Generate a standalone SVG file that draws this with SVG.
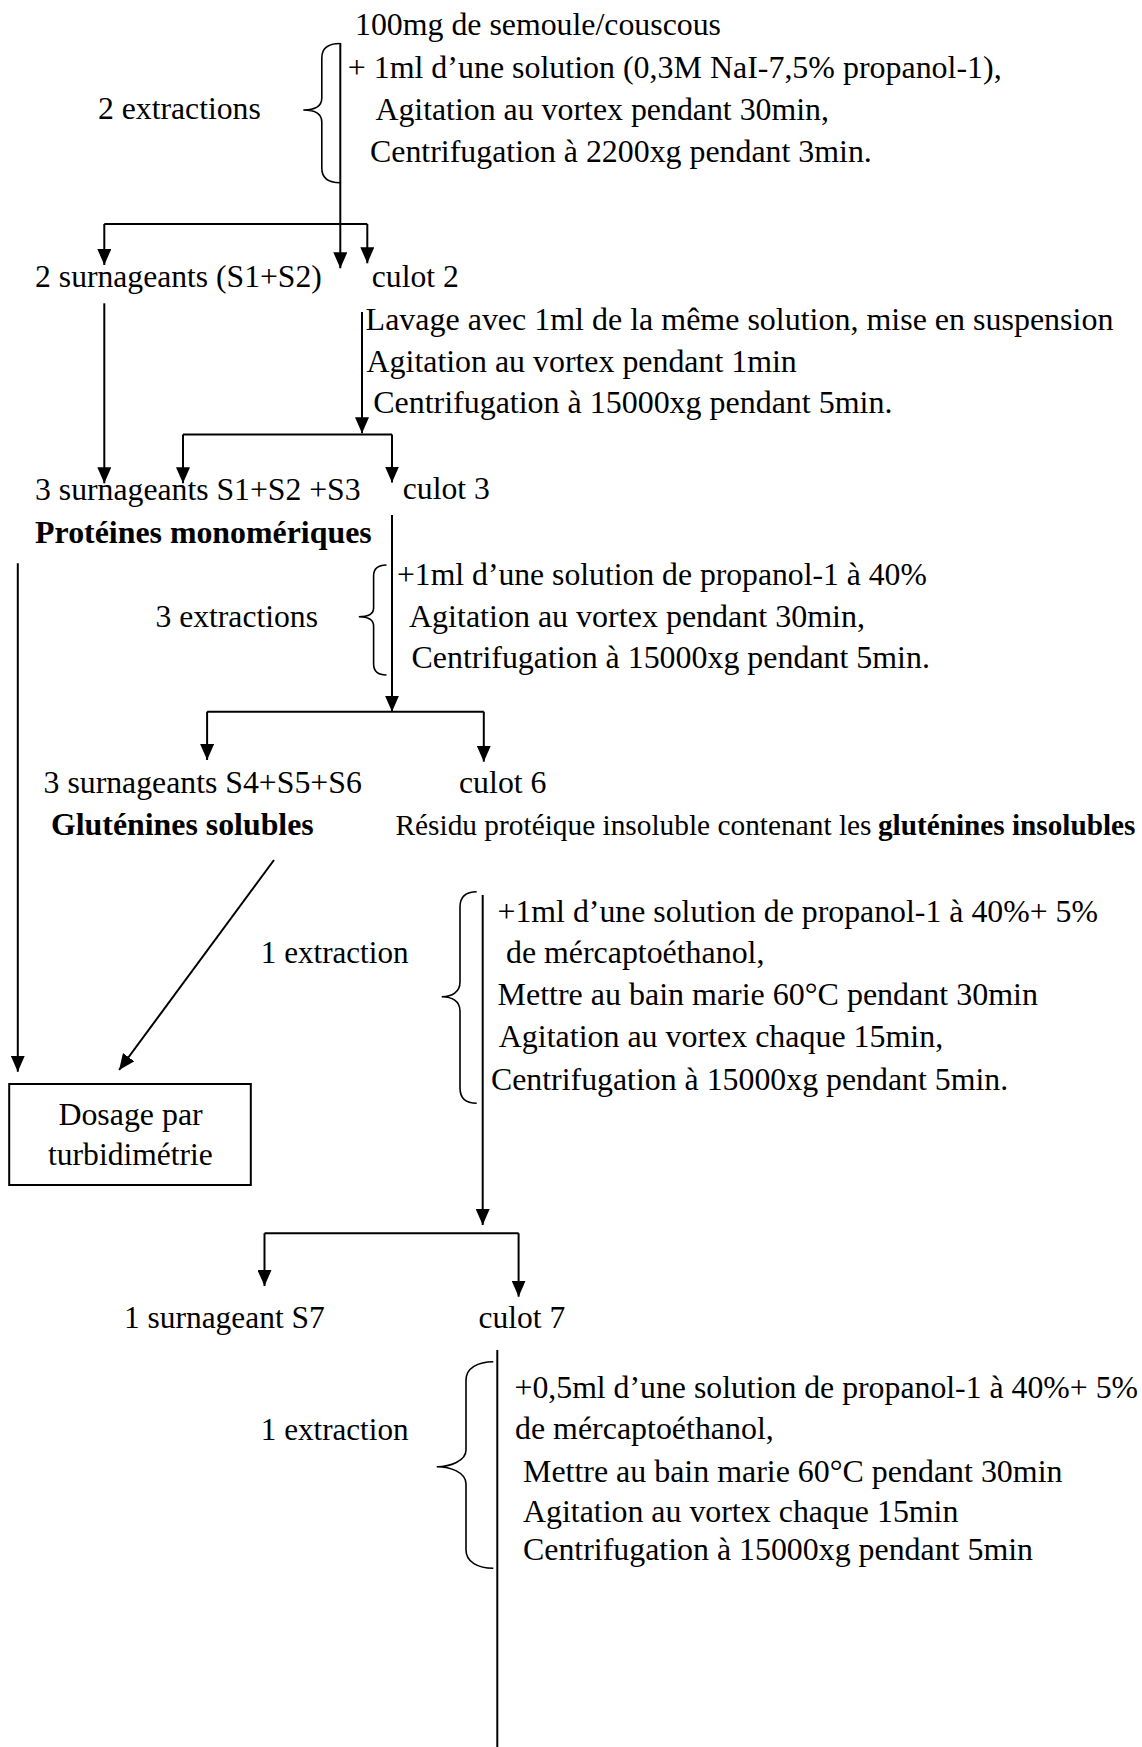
<svg xmlns="http://www.w3.org/2000/svg" width="1142" height="1747" viewBox="0 0 1142 1747">
<style>
text{font-family:"Liberation Serif","Times New Roman",serif;font-size:32px;fill:#000}
.b{font-weight:bold}
.s{font-size:29px}
.ln{stroke:#000;stroke-width:2;fill:none}
.br{stroke:#000;stroke-width:1.6;fill:none}
</style>
<defs>
<marker id="ah" viewBox="0 0 16 14" refX="16" refY="7" markerWidth="16" markerHeight="14" orient="auto" markerUnits="userSpaceOnUse"><path d="M0,0 L16,7 L0,14 z" fill="#000"/></marker>
</defs>
<rect width="1142" height="1747" fill="#fff"/>
<g id="connectors">
<line class="ln" x1="340.3" y1="43" x2="340.3" y2="268.3" marker-end="url(#ah)"/>
<line class="ln" x1="104.3" y1="224" x2="367.3" y2="224"/>
<line class="ln" x1="104.3" y1="224" x2="104.3" y2="265" marker-end="url(#ah)"/>
<line class="ln" x1="367.3" y1="224" x2="367.3" y2="263.3" marker-end="url(#ah)"/>
<line class="ln" x1="104.3" y1="303.3" x2="104.3" y2="483.3" marker-end="url(#ah)"/>
<line class="ln" x1="362" y1="312" x2="362" y2="433.3" marker-end="url(#ah)"/>
<line class="ln" x1="183" y1="434.5" x2="392" y2="434.5"/>
<line class="ln" x1="183" y1="434.5" x2="183" y2="483.3" marker-end="url(#ah)"/>
<line class="ln" x1="392" y1="434.5" x2="392" y2="482.5" marker-end="url(#ah)"/>
<line class="ln" x1="392" y1="515" x2="392" y2="711.7" marker-end="url(#ah)"/>
<line class="ln" x1="207.1" y1="711.7" x2="483.8" y2="711.7"/>
<line class="ln" x1="207.1" y1="711.7" x2="207.1" y2="760" marker-end="url(#ah)"/>
<line class="ln" x1="483.8" y1="711.7" x2="483.8" y2="761.7" marker-end="url(#ah)"/>
<line class="ln" x1="17.8" y1="563.3" x2="17.8" y2="1071.7" marker-end="url(#ah)"/>
<line class="ln" x1="274" y1="860" x2="119.1" y2="1070" marker-end="url(#ah)"/>
<line class="ln" x1="482.7" y1="895" x2="482.7" y2="1225" marker-end="url(#ah)"/>
<line class="ln" x1="264.5" y1="1233.3" x2="518.6" y2="1233.3"/>
<line class="ln" x1="264.5" y1="1233.3" x2="264.5" y2="1286" marker-end="url(#ah)"/>
<line class="ln" x1="518.6" y1="1233.3" x2="518.6" y2="1296.7" marker-end="url(#ah)"/>
<line class="ln" x1="497.3" y1="1350" x2="497.3" y2="1747"/>
</g>
<g id="braces">
<path class="br" d="M340,43.5 C328,43.5 321.8,48 321.8,58 L321.8,98 C321.8,106 315,110 303.3,110 C315,110 321.8,114 321.8,122 L321.8,168 C321.8,178 328,182.7 340,182.7"/>
<path class="br" d="M386.5,565 C378,565 373.6,569 373.6,576 L373.6,608 C373.6,614 368,616.7 358.8,616.7 C368,616.7 373.6,619.5 373.6,626 L373.6,664 C373.6,671 378,675 386.5,675"/>
<path class="br" d="M476.7,891.7 C466,891.7 460,897 460,907 L460,982 C460,992 452,996.7 441.7,996.7 C452,996.7 460,1001 460,1011 L460,1088 C460,1098 466,1103.3 476.7,1103.3"/>
<path class="br" d="M493.3,1361.7 C478,1361.7 466,1368 466,1380 L466,1450 C466,1461 450,1466.7 436.7,1466.7 C450,1466.7 466,1472 466,1484 L466,1550 C466,1562 478,1568.3 493.3,1568.3"/>
</g>
<g id="n1">
<text x="355" y="35" textLength="366" lengthAdjust="spacingAndGlyphs">100mg de semoule/couscous</text>
<text x="347.7" y="78.3" textLength="654" lengthAdjust="spacingAndGlyphs">+ 1ml d’une solution (0,3M NaI-7,5% propanol-1),</text>
<text x="375.4" y="120" textLength="453.6" lengthAdjust="spacingAndGlyphs">Agitation au vortex pendant 30min,</text>
<text x="370" y="161.7" textLength="501.8" lengthAdjust="spacingAndGlyphs">Centrifugation à 2200xg pendant 3min.</text>
</g>
<g id="n1label"><text x="98" y="119" textLength="162.8" lengthAdjust="spacingAndGlyphs">2 extractions</text></g>
<g id="n2"><text x="35.1" y="286.7" textLength="286.7" lengthAdjust="spacingAndGlyphs">2 surnageants (S1+S2)</text></g>
<g id="n3"><text x="371.8" y="286.7" textLength="86.9" lengthAdjust="spacingAndGlyphs">culot 2</text></g>
<g id="n4">
<text x="365.6" y="330" textLength="747.8" lengthAdjust="spacingAndGlyphs">Lavage avec 1ml de la même solution, mise en suspension</text>
<text x="366.6" y="371.7" textLength="430.2" lengthAdjust="spacingAndGlyphs">Agitation au vortex pendant 1min</text>
<text x="373.2" y="413.3" textLength="519.2" lengthAdjust="spacingAndGlyphs">Centrifugation à 15000xg pendant 5min.</text>
</g>
<g id="n5">
<text x="35.1" y="500" textLength="325.5" lengthAdjust="spacingAndGlyphs">3 surnageants S1+S2 +S3</text>
<text class="b" x="35.1" y="542.5" textLength="336.6" lengthAdjust="spacingAndGlyphs">Protéines monomériques</text>
</g>
<g id="n6"><text x="402.8" y="499" textLength="87" lengthAdjust="spacingAndGlyphs">culot 3</text></g>
<g id="n7">
<text x="397" y="585" textLength="529.8" lengthAdjust="spacingAndGlyphs">+1ml d’une solution de propanol-1 à 40%</text>
<text x="409" y="626.7" textLength="456" lengthAdjust="spacingAndGlyphs">Agitation au vortex pendant 30min,</text>
<text x="411.5" y="668.3" textLength="518.4" lengthAdjust="spacingAndGlyphs">Centrifugation à 15000xg pendant 5min.</text>
</g>
<g id="n7label"><text x="155.4" y="626.7" textLength="162.6" lengthAdjust="spacingAndGlyphs">3 extractions</text></g>
<g id="n8">
<text x="43.6" y="793.3" textLength="318.2" lengthAdjust="spacingAndGlyphs">3 surnageants S4+S5+S6</text>
<text class="b" x="51" y="835" textLength="262.7" lengthAdjust="spacingAndGlyphs">Gluténines solubles</text>
</g>
<g id="n9">
<text x="459" y="793.3" textLength="87.5" lengthAdjust="spacingAndGlyphs">culot 6</text>
<text class="s" x="395.5" y="835" textLength="476" lengthAdjust="spacingAndGlyphs">Résidu protéique insoluble contenant les</text>
<text class="s b" x="878" y="835" textLength="257.4" lengthAdjust="spacingAndGlyphs">gluténines insolubles</text>
</g>
<g id="n10">
<text x="497.5" y="921.7" textLength="600.5" lengthAdjust="spacingAndGlyphs">+1ml d’une solution de propanol-1 à 40%+ 5%</text>
<text x="506" y="962.5" textLength="258.4" lengthAdjust="spacingAndGlyphs">de mércaptoéthanol,</text>
<text x="497.5" y="1005" textLength="540.4" lengthAdjust="spacingAndGlyphs">Mettre au bain marie 60°C pendant 30min</text>
<text x="498.8" y="1046.7" textLength="444.4" lengthAdjust="spacingAndGlyphs">Agitation au vortex chaque 15min,</text>
<text x="491" y="1090" textLength="517.1" lengthAdjust="spacingAndGlyphs">Centrifugation à 15000xg pendant 5min.</text>
</g>
<g id="n10label"><text x="260.8" y="963.3" textLength="147.7" lengthAdjust="spacingAndGlyphs">1 extraction</text></g>
<g id="n11">
<rect x="9.2" y="1084" width="241.6" height="101" fill="none" stroke="#000" stroke-width="2"/>
<text x="58.4" y="1125" textLength="144.3" lengthAdjust="spacingAndGlyphs">Dosage par</text>
<text x="48.1" y="1165" textLength="164.6" lengthAdjust="spacingAndGlyphs">turbidimétrie</text>
</g>
<g id="n12"><text x="123.9" y="1328.3" textLength="200.9" lengthAdjust="spacingAndGlyphs">1 surnageant S7</text></g>
<g id="n13"><text x="478.5" y="1328.3" textLength="86.7" lengthAdjust="spacingAndGlyphs">culot 7</text></g>
<g id="n14">
<text x="514.5" y="1398.3" textLength="623.5" lengthAdjust="spacingAndGlyphs">+0,5ml d’une solution de propanol-1 à 40%+ 5%</text>
<text x="515" y="1438.5" textLength="258.8" lengthAdjust="spacingAndGlyphs">de mércaptoéthanol,</text>
<text x="523" y="1481.7" textLength="539.5" lengthAdjust="spacingAndGlyphs">Mettre au bain marie 60°C pendant 30min</text>
<text x="523" y="1521.7" textLength="435.4" lengthAdjust="spacingAndGlyphs">Agitation au vortex chaque 15min</text>
<text x="523" y="1560" textLength="510" lengthAdjust="spacingAndGlyphs">Centrifugation à 15000xg pendant 5min</text>
</g>
<g id="n14label"><text x="260.8" y="1440" textLength="147.7" lengthAdjust="spacingAndGlyphs">1 extraction</text></g>
</svg>
